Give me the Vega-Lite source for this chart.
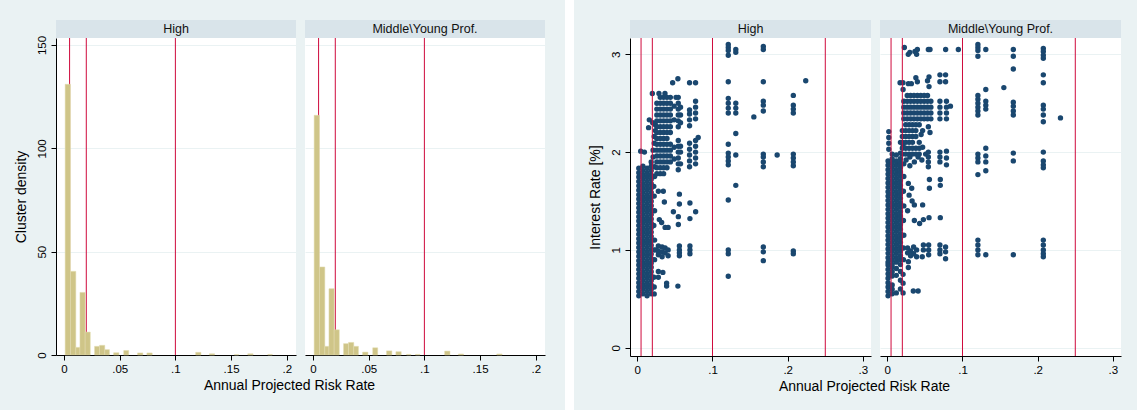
{
"$schema": "https://vega.github.io/schema/vega-lite/v6.json",
"background": "#eaf2f3",
"padding": {"left": 14, "right": 16, "top": 0, "bottom": 0},
"config": {
  "font": "Liberation Sans",
  "view": {"stroke": null},
  "title": {"font": "Liberation Sans", "fontWeight": "normal", "fontSize": 14, "color": "#000"},
  "axis": {"labelFont": "Liberation Sans", "titleFont": "Liberation Sans", "labelFontSize": 11.5, "titleFontSize": 14, "titleFontWeight": "normal", "labelColor": "#000", "titleColor": "#000", "domainColor": "#000", "tickColor": "#000", "domainWidth": 1, "tickWidth": 1, "tickSize": 5, "gridColor": "#eaf2f3", "gridWidth": 1, "labelOverlap": false, "labelFlush": false, "labelPadding": 3}
},
"datasets": {
  "linesL": [{"v":0.005},{"v":0.02},{"v":0.1}],
  "linesR": [{"v":0.005},{"v":0.02},{"v":0.1},{"v":0.25}],
  "histH": [
    {"x0":0.0010,"x1":0.0058,"d":131},{"x0":0.0058,"x1":0.0106,"d":40.5},{"x0":0.0106,"x1":0.0143,"d":3.7},{"x0":0.0143,"x1":0.0190,"d":30.3},{"x0":0.0190,"x1":0.0236,"d":11.1},{"x0":0.0274,"x1":0.0319,"d":4.2},{"x0":0.0319,"x1":0.0366,"d":4.7},{"x0":0.0366,"x1":0.0408,"d":2.6},{"x0":0.0445,"x1":0.0493,"d":1.1},{"x0":0.0536,"x1":0.0581,"d":2.2},{"x0":0.0660,"x1":0.0708,"d":1.0},{"x0":0.0744,"x1":0.0792,"d":1.0},{"x0":0.1182,"x1":0.1230,"d":1.3},{"x0":0.1305,"x1":0.1352,"d":0.6},{"x0":0.1530,"x1":0.1568,"d":0.2},{"x0":0.1650,"x1":0.1698,"d":0.6},{"x0":0.1830,"x1":0.1870,"d":0.3}
  ],
  "histM": [
    {"x0":0.0010,"x1":0.0058,"d":116},{"x0":0.0058,"x1":0.0106,"d":42.6},{"x0":0.0106,"x1":0.0143,"d":4.2},{"x0":0.0143,"x1":0.0190,"d":32.1},{"x0":0.0190,"x1":0.0236,"d":12.2},{"x0":0.0274,"x1":0.0319,"d":5.5},{"x0":0.0319,"x1":0.0366,"d":6.1},{"x0":0.0366,"x1":0.0408,"d":4.2},{"x0":0.0445,"x1":0.0493,"d":1.4},{"x0":0.0536,"x1":0.0581,"d":3.5},{"x0":0.0660,"x1":0.0708,"d":2.0},{"x0":0.0744,"x1":0.0792,"d":1.6},{"x0":0.0840,"x1":0.0880,"d":0.3},{"x0":0.0920,"x1":0.0960,"d":0.3},{"x0":0.1182,"x1":0.1230,"d":1.9},{"x0":0.1305,"x1":0.1352,"d":0.5},{"x0":0.1650,"x1":0.1698,"d":0.5}
  ],
  "sH": [
    {"x":0.002,"y":0.53},{"x":0.002,"y":0.575},{"x":0.002,"y":0.62},{"x":0.002,"y":0.665},{"x":0.002,"y":0.71},{"x":0.002,"y":0.755},{"x":0.002,"y":0.8},{"x":0.002,"y":0.845},{"x":0.002,"y":0.89},{"x":0.002,"y":0.935},{"x":0.002,"y":0.98},{"x":0.002,"y":1.025},{"x":0.002,"y":1.07},{"x":0.002,"y":1.115},{"x":0.002,"y":1.16},{"x":0.002,"y":1.205},{"x":0.002,"y":1.25},{"x":0.002,"y":1.295},{"x":0.002,"y":1.34},{"x":0.002,"y":1.385},{"x":0.002,"y":1.43},{"x":0.002,"y":1.475},{"x":0.002,"y":1.52},{"x":0.002,"y":1.565},{"x":0.002,"y":1.61},{"x":0.002,"y":1.655},{"x":0.002,"y":1.7},{"x":0.002,"y":1.745},{"x":0.002,"y":1.79},{"x":0.002,"y":1.835},
    {"x":0.0075,"y":0.552},{"x":0.0075,"y":0.597},{"x":0.0075,"y":0.642},{"x":0.0075,"y":0.687},{"x":0.0075,"y":0.732},{"x":0.0075,"y":0.777},{"x":0.0075,"y":0.822},{"x":0.0075,"y":0.867},{"x":0.0075,"y":0.912},{"x":0.0075,"y":0.957},{"x":0.0075,"y":1.002},{"x":0.0075,"y":1.047},{"x":0.0075,"y":1.092},{"x":0.0075,"y":1.137},{"x":0.0075,"y":1.182},{"x":0.0075,"y":1.227},{"x":0.0075,"y":1.272},{"x":0.0075,"y":1.317},{"x":0.0075,"y":1.362},{"x":0.0075,"y":1.407},{"x":0.0075,"y":1.452},{"x":0.0075,"y":1.497},{"x":0.0075,"y":1.542},{"x":0.0075,"y":1.587},{"x":0.0075,"y":1.632},{"x":0.0075,"y":1.677},{"x":0.0075,"y":1.722},{"x":0.0075,"y":1.767},{"x":0.0075,"y":1.812},{"x":0.0075,"y":1.857},
    {"x":0.013,"y":0.53},{"x":0.013,"y":0.575},{"x":0.013,"y":0.62},{"x":0.013,"y":0.665},{"x":0.013,"y":0.71},{"x":0.013,"y":0.755},{"x":0.013,"y":0.8},{"x":0.013,"y":0.845},{"x":0.013,"y":0.89},{"x":0.013,"y":0.935},{"x":0.013,"y":0.98},{"x":0.013,"y":1.025},{"x":0.013,"y":1.07},{"x":0.013,"y":1.115},{"x":0.013,"y":1.16},{"x":0.013,"y":1.205},{"x":0.013,"y":1.25},{"x":0.013,"y":1.295},{"x":0.013,"y":1.34},{"x":0.013,"y":1.385},{"x":0.013,"y":1.43},{"x":0.013,"y":1.475},{"x":0.013,"y":1.52},{"x":0.013,"y":1.565},{"x":0.013,"y":1.61},{"x":0.013,"y":1.655},{"x":0.013,"y":1.7},{"x":0.013,"y":1.745},{"x":0.013,"y":1.79},{"x":0.013,"y":1.835},
    {"x":0.0185,"y":0.552},{"x":0.0185,"y":0.597},{"x":0.0185,"y":0.642},{"x":0.0185,"y":0.687},{"x":0.0185,"y":0.732},{"x":0.0185,"y":0.777},{"x":0.0185,"y":0.822},{"x":0.0185,"y":0.867},{"x":0.0185,"y":0.912},{"x":0.0185,"y":0.957},{"x":0.0185,"y":1.002},{"x":0.0185,"y":1.047},{"x":0.0185,"y":1.092},{"x":0.0185,"y":1.137},{"x":0.0185,"y":1.182},{"x":0.0185,"y":1.227},{"x":0.0185,"y":1.272},{"x":0.0185,"y":1.317},{"x":0.0185,"y":1.362},{"x":0.0185,"y":1.407},{"x":0.0185,"y":1.452},{"x":0.0185,"y":1.497},{"x":0.0185,"y":1.542},{"x":0.0185,"y":1.587},{"x":0.0185,"y":1.632},{"x":0.0185,"y":1.677},{"x":0.0185,"y":1.722},{"x":0.0185,"y":1.767},{"x":0.0185,"y":1.812},{"x":0.0185,"y":1.857},
    {"x":0.0185,"y":1.9},{"x":0.021,"y":1.95},{"x":0.021,"y":2.02},{"x":0.0225,"y":2.09},{"x":0.0225,"y":2.16},{"x":0.024,"y":2.22},{"x":0.024,"y":2.28},{"x":0.0205,"y":2.3},{"x":0.016,"y":2.33},{"x":0.015,"y":2.25},{"x":0.0095,"y":2.0},{"x":0.0045,"y":2.01},
    {"x":0.0225,"y":0.55},{"x":0.0225,"y":0.62},{"x":0.022,"y":0.72},{"x":0.023,"y":0.9},{"x":0.022,"y":1.0},{"x":0.023,"y":1.1},{"x":0.022,"y":1.25},{"x":0.023,"y":1.4},{"x":0.0225,"y":1.55},{"x":0.022,"y":1.65},{"x":0.023,"y":1.75},{"x":0.023,"y":1.85},
    {"x":0.026,"y":1.78},{"x":0.026,"y":1.84},{"x":0.026,"y":1.9},{"x":0.026,"y":1.96},{"x":0.026,"y":2.02},{"x":0.026,"y":2.08},{"x":0.026,"y":2.14},{"x":0.026,"y":2.2},{"x":0.026,"y":2.26},{"x":0.026,"y":2.32},{"x":0.026,"y":2.38},{"x":0.026,"y":2.44},{"x":0.026,"y":2.5},
    {"x":0.0305,"y":1.78},{"x":0.0305,"y":1.84},{"x":0.0305,"y":1.9},{"x":0.0305,"y":1.96},{"x":0.0305,"y":2.02},{"x":0.0305,"y":2.08},{"x":0.0305,"y":2.14},{"x":0.0305,"y":2.2},{"x":0.0305,"y":2.26},{"x":0.0305,"y":2.32},{"x":0.0305,"y":2.38},{"x":0.0305,"y":2.44},{"x":0.0305,"y":2.5},{"x":0.0305,"y":2.56},
    {"x":0.035,"y":1.78},{"x":0.035,"y":1.84},{"x":0.035,"y":1.9},{"x":0.035,"y":1.96},{"x":0.035,"y":2.02},{"x":0.035,"y":2.08},{"x":0.035,"y":2.14},{"x":0.035,"y":2.2},{"x":0.035,"y":2.26},{"x":0.035,"y":2.32},{"x":0.035,"y":2.38},{"x":0.035,"y":2.44},{"x":0.035,"y":2.5},{"x":0.035,"y":2.56},
    {"x":0.0395,"y":1.84},{"x":0.0395,"y":1.9},{"x":0.0395,"y":1.96},{"x":0.0395,"y":2.02},{"x":0.0395,"y":2.08},{"x":0.0395,"y":2.14},{"x":0.0395,"y":2.2},{"x":0.0395,"y":2.26},{"x":0.0395,"y":2.32},{"x":0.0395,"y":2.38},{"x":0.0395,"y":2.44},{"x":0.0395,"y":2.5},{"x":0.0395,"y":2.56},
    {"x":0.044,"y":1.9},{"x":0.044,"y":1.96},{"x":0.044,"y":2.02},{"x":0.044,"y":2.08},{"x":0.044,"y":2.2},{"x":0.044,"y":2.26},{"x":0.044,"y":2.32},{"x":0.044,"y":2.38},{"x":0.044,"y":2.44},{"x":0.044,"y":2.5},{"x":0.044,"y":2.56},
    {"x":0.0545,"y":1.82},{"x":0.0545,"y":1.88},{"x":0.0545,"y":1.94},{"x":0.0545,"y":2.0},{"x":0.0545,"y":2.06},{"x":0.0545,"y":2.12},{"x":0.0545,"y":2.26},{"x":0.0545,"y":2.32},{"x":0.0545,"y":2.38},{"x":0.0545,"y":2.44},{"x":0.0545,"y":2.5},{"x":0.0545,"y":2.56},
    {"x":0.0575,"y":1.88},{"x":0.0575,"y":2.0},{"x":0.0575,"y":2.06},{"x":0.0575,"y":2.3},{"x":0.0575,"y":2.38},{"x":0.0575,"y":2.46},
    {"x":0.049,"y":2.47},{"x":0.049,"y":2.33},{"x":0.049,"y":2.05},{"x":0.049,"y":1.93},
    {"x":0.0695,"y":2.27},{"x":0.0695,"y":2.33},{"x":0.0695,"y":2.39},{"x":0.0695,"y":2.43},{"x":0.0695,"y":2.09},{"x":0.0695,"y":2.03},{"x":0.0695,"y":1.97},{"x":0.0695,"y":1.91},{"x":0.0695,"y":1.85},
    {"x":0.0775,"y":2.52},{"x":0.0775,"y":2.46},{"x":0.0775,"y":2.4},{"x":0.0775,"y":2.34},{"x":0.0775,"y":2.12},{"x":0.0775,"y":2.06},{"x":0.0775,"y":2.0},{"x":0.0775,"y":1.94},{"x":0.0775,"y":1.88},
    {"x":0.081,"y":2.15},
    {"x":0.02,"y":2.6},{"x":0.0288,"y":2.6},{"x":0.0368,"y":2.6},{"x":0.0515,"y":2.56},{"x":0.047,"y":2.71},{"x":0.054,"y":2.75},{"x":0.0695,"y":2.71},{"x":0.0775,"y":2.71},
    {"x":0.028,"y":1.6},{"x":0.0346,"y":1.6},{"x":0.036,"y":1.49},{"x":0.048,"y":1.39},{"x":0.0546,"y":1.34},{"x":0.0546,"y":1.26},{"x":0.0293,"y":1.31},{"x":0.0324,"y":1.28},{"x":0.037,"y":1.23},{"x":0.041,"y":1.23},{"x":0.056,"y":1.57},{"x":0.056,"y":1.47},{"x":0.07,"y":1.48},{"x":0.07,"y":1.32},{"x":0.0776,"y":1.39},
    {"x":0.0245,"y":1.0},{"x":0.028,"y":1.04},{"x":0.028,"y":0.99},{"x":0.028,"y":0.95},{"x":0.033,"y":1.03},{"x":0.033,"y":0.98},{"x":0.033,"y":0.93},{"x":0.037,"y":1.02},{"x":0.037,"y":0.97},{"x":0.041,"y":0.94},{"x":0.041,"y":1.0},
    {"x":0.056,"y":1.04},{"x":0.056,"y":1.0},{"x":0.056,"y":0.97},{"x":0.056,"y":0.94},{"x":0.07,"y":1.04},{"x":0.07,"y":1.0},{"x":0.07,"y":0.96},
    {"x":0.028,"y":0.78},{"x":0.028,"y":0.72},{"x":0.034,"y":0.77},{"x":0.039,"y":0.66},{"x":0.039,"y":0.63},{"x":0.054,"y":0.63},
    {"x":0.121,"y":3.1},{"x":0.121,"y":3.07},{"x":0.121,"y":3.04},{"x":0.121,"y":2.99},{"x":0.121,"y":2.72},{"x":0.121,"y":2.55},{"x":0.121,"y":2.5},{"x":0.121,"y":2.45},{"x":0.121,"y":2.4},{"x":0.121,"y":2.08},{"x":0.121,"y":1.99},{"x":0.121,"y":1.95},{"x":0.121,"y":1.91},{"x":0.121,"y":1.87},{"x":0.121,"y":1.51},{"x":0.121,"y":1.0},{"x":0.121,"y":0.96},{"x":0.121,"y":0.73},
    {"x":0.131,"y":3.05},{"x":0.131,"y":3.02},{"x":0.131,"y":2.5},{"x":0.131,"y":2.45},{"x":0.131,"y":2.4},{"x":0.131,"y":2.19},{"x":0.131,"y":1.97},{"x":0.131,"y":1.66},
    {"x":0.155,"y":2.36},
    {"x":0.1676,"y":3.08},{"x":0.1676,"y":3.05},{"x":0.1676,"y":2.72},{"x":0.1676,"y":2.52},{"x":0.1676,"y":2.48},{"x":0.1676,"y":2.42},{"x":0.1676,"y":1.98},{"x":0.1676,"y":1.95},{"x":0.1676,"y":1.9},{"x":0.1676,"y":1.85},{"x":0.1676,"y":1.03},{"x":0.1676,"y":0.98},{"x":0.1676,"y":0.89},
    {"x":0.186,"y":1.97},
    {"x":0.2075,"y":2.58},{"x":0.2075,"y":2.48},{"x":0.2075,"y":2.44},{"x":0.2075,"y":2.4},{"x":0.2075,"y":1.98},{"x":0.2075,"y":1.94},{"x":0.2075,"y":1.9},{"x":0.2075,"y":1.86},{"x":0.2075,"y":0.99},{"x":0.2075,"y":0.96},
    {"x":0.224,"y":2.73}
  ],
  "sM": [
    {"x":0.001,"y":0.875},{"x":0.001,"y":0.92},{"x":0.001,"y":0.965},{"x":0.001,"y":1.01},{"x":0.001,"y":1.055},{"x":0.001,"y":1.1},{"x":0.001,"y":1.145},{"x":0.001,"y":1.19},{"x":0.001,"y":1.235},{"x":0.001,"y":1.28},{"x":0.001,"y":1.325},{"x":0.001,"y":1.37},{"x":0.001,"y":1.415},{"x":0.001,"y":1.46},{"x":0.001,"y":1.505},{"x":0.001,"y":1.55},{"x":0.001,"y":1.595},{"x":0.001,"y":1.64},{"x":0.001,"y":1.685},{"x":0.001,"y":1.73},{"x":0.001,"y":1.775},{"x":0.001,"y":1.82},{"x":0.001,"y":1.865},{"x":0.001,"y":1.91},
    {"x":0.012,"y":0.875},{"x":0.012,"y":0.92},{"x":0.012,"y":0.965},{"x":0.012,"y":1.01},{"x":0.012,"y":1.055},{"x":0.012,"y":1.1},{"x":0.012,"y":1.145},{"x":0.012,"y":1.19},{"x":0.012,"y":1.235},{"x":0.012,"y":1.28},{"x":0.012,"y":1.325},{"x":0.012,"y":1.37},{"x":0.012,"y":1.415},{"x":0.012,"y":1.46},{"x":0.012,"y":1.505},{"x":0.012,"y":1.55},{"x":0.012,"y":1.595},{"x":0.012,"y":1.64},{"x":0.012,"y":1.685},{"x":0.012,"y":1.73},{"x":0.012,"y":1.775},{"x":0.012,"y":1.82},{"x":0.012,"y":1.865},{"x":0.012,"y":1.91},
    {"x":0.0065,"y":0.897},{"x":0.0065,"y":0.942},{"x":0.0065,"y":0.987},{"x":0.0065,"y":1.032},{"x":0.0065,"y":1.077},{"x":0.0065,"y":1.122},{"x":0.0065,"y":1.167},{"x":0.0065,"y":1.212},{"x":0.0065,"y":1.257},{"x":0.0065,"y":1.302},{"x":0.0065,"y":1.347},{"x":0.0065,"y":1.392},{"x":0.0065,"y":1.437},{"x":0.0065,"y":1.482},{"x":0.0065,"y":1.527},{"x":0.0065,"y":1.572},{"x":0.0065,"y":1.617},{"x":0.0065,"y":1.662},{"x":0.0065,"y":1.707},{"x":0.0065,"y":1.752},{"x":0.0065,"y":1.797},{"x":0.0065,"y":1.842},{"x":0.0065,"y":1.887},{"x":0.0065,"y":1.932},
    {"x":0.0175,"y":0.897},{"x":0.0175,"y":0.942},{"x":0.0175,"y":0.987},{"x":0.0175,"y":1.032},{"x":0.0175,"y":1.077},{"x":0.0175,"y":1.122},{"x":0.0175,"y":1.167},{"x":0.0175,"y":1.212},{"x":0.0175,"y":1.257},{"x":0.0175,"y":1.302},{"x":0.0175,"y":1.347},{"x":0.0175,"y":1.392},{"x":0.0175,"y":1.437},{"x":0.0175,"y":1.482},{"x":0.0175,"y":1.527},{"x":0.0175,"y":1.572},{"x":0.0175,"y":1.617},{"x":0.0175,"y":1.662},{"x":0.0175,"y":1.707},{"x":0.0175,"y":1.752},{"x":0.0175,"y":1.797},{"x":0.0175,"y":1.842},{"x":0.0175,"y":1.887},{"x":0.0175,"y":1.932},
    {"x":0.001,"y":0.53},{"x":0.001,"y":0.575},{"x":0.001,"y":0.62},{"x":0.001,"y":0.665},{"x":0.001,"y":0.71},{"x":0.001,"y":0.755},{"x":0.001,"y":0.8},{"x":0.001,"y":0.845},
    {"x":0.0065,"y":0.552},{"x":0.0065,"y":0.597},{"x":0.0065,"y":0.642},{"x":0.0065,"y":0.732},{"x":0.0065,"y":0.777},{"x":0.0065,"y":0.822},{"x":0.0065,"y":0.852},
    {"x":0.012,"y":0.56},{"x":0.012,"y":0.74},{"x":0.012,"y":0.81},
    {"x":0.0175,"y":0.6},{"x":0.0175,"y":0.69},{"x":0.0175,"y":0.78},{"x":0.0175,"y":0.85},
    {"x":0.021,"y":0.56},{"x":0.021,"y":0.66},{"x":0.021,"y":0.75},
    {"x":0.002,"y":2.21},{"x":0.002,"y":2.15},{"x":0.002,"y":2.09},{"x":0.002,"y":2.03},{"x":0.0065,"y":1.98},{"x":0.012,"y":1.97},{"x":0.0175,"y":1.99},{"x":0.0175,"y":2.1},{"x":0.021,"y":2.06},
    {"x":0.0215,"y":0.9},{"x":0.0215,"y":1.02},{"x":0.022,"y":1.15},{"x":0.0215,"y":1.3},{"x":0.022,"y":1.45},{"x":0.0215,"y":1.6},{"x":0.022,"y":1.75},{"x":0.022,"y":1.88},
    {"x":0.022,"y":2.34},{"x":0.022,"y":2.4},{"x":0.022,"y":2.46},{"x":0.022,"y":2.52},
    {"x":0.0265,"y":2.34},{"x":0.0265,"y":2.4},{"x":0.0265,"y":2.46},{"x":0.0265,"y":2.52},{"x":0.0265,"y":2.58},
    {"x":0.031,"y":2.34},{"x":0.031,"y":2.4},{"x":0.031,"y":2.46},{"x":0.031,"y":2.52},{"x":0.031,"y":2.58},
    {"x":0.0355,"y":2.34},{"x":0.0355,"y":2.4},{"x":0.0355,"y":2.46},{"x":0.0355,"y":2.52},{"x":0.0355,"y":2.58},
    {"x":0.04,"y":2.34},{"x":0.04,"y":2.4},{"x":0.04,"y":2.46},{"x":0.04,"y":2.52},{"x":0.04,"y":2.58},
    {"x":0.0445,"y":2.34},{"x":0.0445,"y":2.4},{"x":0.0445,"y":2.46},{"x":0.0445,"y":2.52},{"x":0.0445,"y":2.58},
    {"x":0.049,"y":2.34},{"x":0.049,"y":2.4},{"x":0.049,"y":2.46},{"x":0.049,"y":2.52},{"x":0.049,"y":2.58},
    {"x":0.0535,"y":2.34},{"x":0.0535,"y":2.4},{"x":0.0535,"y":2.46},{"x":0.0535,"y":2.52},{"x":0.0535,"y":2.58},
    {"x":0.058,"y":2.34},{"x":0.058,"y":2.4},{"x":0.058,"y":2.46},{"x":0.058,"y":2.52},
    {"x":0.02,"y":1.98},{"x":0.02,"y":2.04},{"x":0.02,"y":2.1},{"x":0.02,"y":2.16},{"x":0.02,"y":2.22},
    {"x":0.0245,"y":1.98},{"x":0.0245,"y":2.04},{"x":0.0245,"y":2.1},{"x":0.0245,"y":2.16},{"x":0.0245,"y":2.22},{"x":0.0245,"y":2.28},
    {"x":0.029,"y":1.98},{"x":0.029,"y":2.04},{"x":0.029,"y":2.1},{"x":0.029,"y":2.16},{"x":0.029,"y":2.22},{"x":0.029,"y":2.28},
    {"x":0.0335,"y":1.98},{"x":0.0335,"y":2.04},{"x":0.0335,"y":2.1},{"x":0.0335,"y":2.16},{"x":0.0335,"y":2.22},{"x":0.0335,"y":2.28},
    {"x":0.038,"y":1.98},{"x":0.038,"y":2.04},{"x":0.038,"y":2.16},{"x":0.038,"y":2.22},{"x":0.038,"y":2.28},
    {"x":0.0425,"y":1.98},{"x":0.0425,"y":2.04},{"x":0.0425,"y":2.1},{"x":0.0425,"y":2.28},
    {"x":0.047,"y":2.05},{"x":0.047,"y":2.22},{"x":0.051,"y":1.98},{"x":0.0546,"y":2.26},{"x":0.0568,"y":2.2},{"x":0.045,"y":2.18},
    {"x":0.025,"y":1.92},{"x":0.03,"y":1.95},{"x":0.036,"y":1.9},{"x":0.041,"y":1.95},{"x":0.046,"y":1.92},{"x":0.03,"y":1.86},
    {"x":0.0546,"y":2.0},{"x":0.0546,"y":1.95},{"x":0.0546,"y":1.9},{"x":0.0546,"y":1.85},
    {"x":0.017,"y":2.71},{"x":0.0208,"y":2.71},{"x":0.028,"y":2.7},{"x":0.032,"y":2.7},{"x":0.038,"y":2.76},{"x":0.04,"y":2.72},{"x":0.0535,"y":2.73},{"x":0.0555,"y":2.67},{"x":0.0555,"y":2.77},{"x":0.07,"y":2.79},{"x":0.07,"y":2.72},{"x":0.0775,"y":2.79},{"x":0.0775,"y":2.72},{"x":0.021,"y":2.64},
    {"x":0.07,"y":2.52},{"x":0.07,"y":2.46},{"x":0.07,"y":2.4},{"x":0.07,"y":2.34},{"x":0.07,"y":2.0},{"x":0.07,"y":1.95},{"x":0.07,"y":1.9},
    {"x":0.0787,"y":2.52},{"x":0.0787,"y":2.46},{"x":0.0787,"y":2.4},{"x":0.0787,"y":2.34},{"x":0.0787,"y":2.01},{"x":0.0787,"y":1.94},{"x":0.0787,"y":1.87},
    {"x":0.084,"y":2.47},
    {"x":0.0227,"y":3.07},{"x":0.0279,"y":3.0},{"x":0.03,"y":3.02},{"x":0.0368,"y":3.03},{"x":0.04,"y":3.05},{"x":0.039,"y":3.0},{"x":0.0546,"y":3.05},{"x":0.0568,"y":3.05},{"x":0.0776,"y":3.05},{"x":0.0945,"y":3.05},
    {"x":0.028,"y":1.68},{"x":0.0325,"y":1.63},{"x":0.029,"y":1.56},{"x":0.033,"y":1.5},{"x":0.036,"y":1.46},{"x":0.027,"y":1.4},{"x":0.036,"y":1.3},{"x":0.043,"y":1.27},{"x":0.048,"y":1.31},{"x":0.0555,"y":1.33},{"x":0.056,"y":1.72},{"x":0.056,"y":1.63},{"x":0.0705,"y":1.72},{"x":0.0705,"y":1.66},{"x":0.0705,"y":1.33},{"x":0.047,"y":1.46},
    {"x":0.027,"y":1.02},{"x":0.027,"y":0.97},{"x":0.031,"y":0.99},{"x":0.031,"y":0.94},{"x":0.035,"y":1.03},{"x":0.035,"y":0.96},{"x":0.039,"y":1.0},{"x":0.039,"y":0.93},{"x":0.028,"y":0.88},{"x":0.048,"y":1.05},{"x":0.048,"y":1.0},{"x":0.055,"y":1.05},{"x":0.055,"y":1.0},{"x":0.055,"y":0.95},{"x":0.0465,"y":0.93},{"x":0.07,"y":1.05},{"x":0.07,"y":1.0},{"x":0.07,"y":0.96},{"x":0.0775,"y":1.03},{"x":0.0775,"y":0.98},{"x":0.0775,"y":0.91},
    {"x":0.028,"y":0.82},{"x":0.0346,"y":0.58},{"x":0.041,"y":0.58},
    {"x":0.1205,"y":3.1},{"x":0.1205,"y":3.07},{"x":0.1205,"y":3.04},{"x":0.1205,"y":2.98},{"x":0.1205,"y":2.58},{"x":0.1205,"y":2.54},{"x":0.1205,"y":2.5},{"x":0.1205,"y":2.46},{"x":0.1205,"y":2.42},{"x":0.1205,"y":2.38},{"x":0.1205,"y":1.98},{"x":0.1205,"y":1.94},{"x":0.1205,"y":1.9},{"x":0.1205,"y":1.77},{"x":0.1205,"y":1.1},{"x":0.1205,"y":1.05},{"x":0.1205,"y":1.0},{"x":0.1205,"y":0.95},
    {"x":0.131,"y":3.05},{"x":0.131,"y":2.64},{"x":0.131,"y":2.52},{"x":0.131,"y":2.48},{"x":0.131,"y":2.44},{"x":0.131,"y":2.04},{"x":0.131,"y":1.96},{"x":0.131,"y":1.9},{"x":0.131,"y":1.81},{"x":0.131,"y":0.95},
    {"x":0.155,"y":2.66},
    {"x":0.1676,"y":3.05},{"x":0.1676,"y":2.98},{"x":0.1676,"y":2.85},{"x":0.1676,"y":2.51},{"x":0.1676,"y":2.47},{"x":0.1676,"y":2.42},{"x":0.1676,"y":2.38},{"x":0.1676,"y":1.99},{"x":0.1676,"y":1.91},{"x":0.1676,"y":0.95},
    {"x":0.2075,"y":3.06},{"x":0.2075,"y":3.03},{"x":0.2075,"y":2.99},{"x":0.2075,"y":2.96},{"x":0.2075,"y":2.79},{"x":0.2075,"y":2.71},{"x":0.2075,"y":2.48},{"x":0.2075,"y":2.44},{"x":0.2075,"y":2.38},{"x":0.2075,"y":2.31},{"x":0.2075,"y":2.0},{"x":0.2075,"y":1.91},{"x":0.2075,"y":1.87},{"x":0.2075,"y":1.84},{"x":0.2075,"y":1.1},{"x":0.2075,"y":1.05},{"x":0.2075,"y":1.0},{"x":0.2075,"y":0.96},{"x":0.2075,"y":0.93},
    {"x":0.2303,"y":2.35}
  ]
},
"spacing": 14,
"hconcat": [
  {
    "spacing": 20,
    "hconcat": [
      {
        "spacing": 0,
        "vconcat": [
          {"width": 1, "height": 20, "data": {"values": []}, "mark": "point"},
          {
            "spacing": 9,
            "title": {"text": "Annual Projected Risk Rate", "orient": "bottom", "anchor": "middle", "offset": 4, "dx": 10},
            "hconcat": [
              {
                "bounds": "flush", "spacing": 0,
                "vconcat": [
                  {"width": 240, "height": 18, "view": {"fill": "#d9e4ea"}, "data": {"values": [{"t": "High"}]}, "mark": {"type": "text", "fontSize": 12.5, "color": "#111", "align": "center", "baseline": "middle"}, "encoding": {"text": {"field": "t", "type": "nominal"}}},
                  {
                    "width": 240, "height": 317, "view": {"fill": "white"},
                    "layer": [
                      {"data": {"name": "linesL"}, "mark": {"type": "rule", "color": "#cf0a3c", "strokeWidth": 1}, "encoding": {"x": {"field": "v", "type": "quantitative", "scale": {"domain": [-0.0072, 0.2083], "nice": false, "zero": false}, "axis": {"values": [0, 0.05, 0.1, 0.15, 0.2], "labelExpr": "datum.value == 0 ? '0' : slice(format(datum.value, '.2~f'), 1)", "title": null, "grid": false}}}},
                      {"data": {"name": "histH"}, "mark": {"type": "rect", "fill": "#cfc588", "stroke": "#e2dcb0", "strokeWidth": 0.5}, "encoding": {"x": {"field": "x0", "type": "quantitative", "axis": {"values": [0, 0.05, 0.1, 0.15, 0.2], "labelExpr": "datum.value == 0 ? '0' : slice(format(datum.value, '.2~f'), 1)", "title": null, "grid": false}}, "x2": {"field": "x1"}, "y": {"field": "d", "type": "quantitative", "scale": {"domain": [0, 153.4], "nice": false}, "axis": {"values": [0, 50, 100, 150], "title": "Cluster density", "labelAngle": -90, "labelAlign": "center", "labelBaseline": "bottom", "grid": true, "labelPadding": 4, "titlePadding": 8}}, "y2": {"datum": 0}}}
                    ]
                  }
                ]
              },
              {
                "bounds": "flush", "spacing": 0,
                "vconcat": [
                  {"width": 240, "height": 18, "view": {"fill": "#d9e4ea"}, "data": {"values": [{"t": "Middle\\Young Prof."}]}, "mark": {"type": "text", "fontSize": 12.5, "color": "#111", "align": "center", "baseline": "middle"}, "encoding": {"text": {"field": "t", "type": "nominal"}}},
                  {
                    "width": 240, "height": 317, "view": {"fill": "white"},
                    "layer": [
                      {"data": {"name": "linesL"}, "mark": {"type": "rule", "color": "#cf0a3c", "strokeWidth": 1}, "encoding": {"x": {"field": "v", "type": "quantitative", "scale": {"domain": [-0.0072, 0.2083], "nice": false, "zero": false}, "axis": {"values": [0, 0.05, 0.1, 0.15, 0.2], "labelExpr": "datum.value == 0 ? '0' : slice(format(datum.value, '.2~f'), 1)", "title": null, "grid": false}}}},
                      {"data": {"name": "histM"}, "mark": {"type": "rect", "fill": "#cfc588", "stroke": "#e2dcb0", "strokeWidth": 0.5}, "encoding": {"x": {"field": "x0", "type": "quantitative", "axis": {"values": [0, 0.05, 0.1, 0.15, 0.2], "labelExpr": "datum.value == 0 ? '0' : slice(format(datum.value, '.2~f'), 1)", "title": null, "grid": false}}, "x2": {"field": "x1"}, "y": {"field": "d", "type": "quantitative", "scale": {"domain": [0, 153.4], "nice": false}, "axis": {"values": [0, 50, 100, 150], "title": null, "labels": false, "ticks": false, "domain": false, "grid": true}}, "y2": {"datum": 0}}}
                    ]
                  }
                ]
              }
            ]
          }
        ]
      },
      {"width": 9, "height": 410, "view": {"fill": "#ffffff"}, "data": {"values": []}, "mark": "point"}
    ]
  },
  {
    "spacing": 0,
    "vconcat": [
      {"width": 1, "height": 20, "data": {"values": []}, "mark": "point"},
      {
        "spacing": 9,
        "title": {"text": "Annual Projected Risk Rate", "orient": "bottom", "anchor": "middle", "offset": 4, "dx": 10},
        "hconcat": [
          {
            "bounds": "flush", "spacing": 0,
            "vconcat": [
              {"width": 241, "height": 18, "view": {"fill": "#d9e4ea"}, "data": {"values": [{"t": "High"}]}, "mark": {"type": "text", "fontSize": 12.5, "color": "#111", "align": "center", "baseline": "middle"}, "encoding": {"text": {"field": "t", "type": "nominal"}}},
              {
                "width": 241, "height": 318, "view": {"fill": "white"},
                "layer": [
                  {"data": {"name": "sH"}, "mark": {"type": "circle", "size": 29, "color": "#1a476f", "opacity": 1}, "encoding": {"x": {"field": "x", "type": "quantitative", "scale": {"domain": [-0.0097, 0.3108], "nice": false, "zero": false}, "axis": {"values": [0, 0.1, 0.2, 0.3], "labelExpr": "datum.value == 0 ? '0' : slice(format(datum.value, '.2~f'), 1)", "title": null, "grid": false}}, "y": {"field": "y", "type": "quantitative", "scale": {"domain": [-0.085, 3.167], "nice": false, "zero": false}, "axis": {"values": [0, 1, 2, 3], "title": "Interest Rate [%]", "labelAngle": -90, "labelAlign": "center", "labelBaseline": "bottom", "grid": true, "labelPadding": 4, "titlePadding": 8}}}},
                  {"data": {"name": "linesR"}, "mark": {"type": "rule", "color": "#cf0a3c", "strokeWidth": 1}, "encoding": {"x": {"field": "v", "type": "quantitative", "axis": {"values": [0, 0.1, 0.2, 0.3], "labelExpr": "datum.value == 0 ? '0' : slice(format(datum.value, '.2~f'), 1)", "title": null, "grid": false}}}}
                ]
              }
            ]
          },
          {
            "bounds": "flush", "spacing": 0,
            "vconcat": [
              {"width": 241, "height": 18, "view": {"fill": "#d9e4ea"}, "data": {"values": [{"t": "Middle\\Young Prof."}]}, "mark": {"type": "text", "fontSize": 12.5, "color": "#111", "align": "center", "baseline": "middle"}, "encoding": {"text": {"field": "t", "type": "nominal"}}},
              {
                "width": 241, "height": 318, "view": {"fill": "white"},
                "layer": [
                  {"data": {"name": "sM"}, "mark": {"type": "circle", "size": 29, "color": "#1a476f", "opacity": 1}, "encoding": {"x": {"field": "x", "type": "quantitative", "scale": {"domain": [-0.0097, 0.3108], "nice": false, "zero": false}, "axis": {"values": [0, 0.1, 0.2, 0.3], "labelExpr": "datum.value == 0 ? '0' : slice(format(datum.value, '.2~f'), 1)", "title": null, "grid": false}}, "y": {"field": "y", "type": "quantitative", "scale": {"domain": [-0.085, 3.167], "nice": false, "zero": false}, "axis": {"values": [0, 1, 2, 3], "title": null, "labels": false, "ticks": false, "domain": false, "grid": true}}}},
                  {"data": {"name": "linesR"}, "mark": {"type": "rule", "color": "#cf0a3c", "strokeWidth": 1}, "encoding": {"x": {"field": "v", "type": "quantitative", "axis": {"values": [0, 0.1, 0.2, 0.3], "labelExpr": "datum.value == 0 ? '0' : slice(format(datum.value, '.2~f'), 1)", "title": null, "grid": false}}}}
                ]
              }
            ]
          }
        ]
      }
    ]
  }
]
}
